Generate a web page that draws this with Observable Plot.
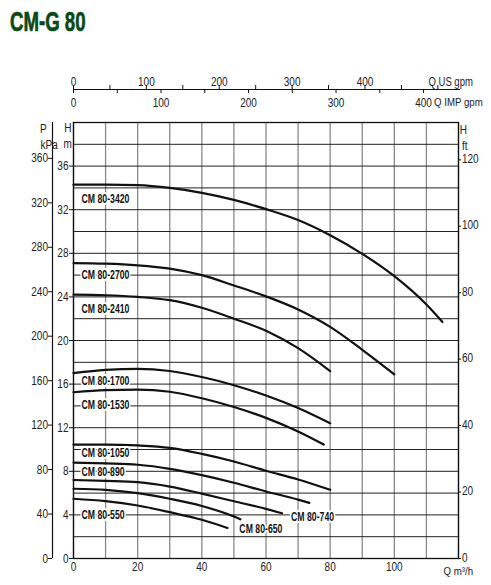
<!DOCTYPE html>
<html><head><meta charset="utf-8">
<script src="https://cdn.jsdelivr.net/npm/d3@7"></script>
<script src="https://cdn.jsdelivr.net/npm/@observablehq/plot@0.6"></script>
<style>
body{margin:0;background:#fff;width:491px;height:585px;overflow:hidden;position:relative;}
#title{position:absolute;left:10px;top:9px;font:bold 27px/27px "Liberation Sans",Arial,sans-serif;color:#0b4a16;-webkit-text-stroke:0.7px #0b4a16;transform-origin:left top;transform:scaleX(0.69);white-space:nowrap;}
#chart{position:absolute;left:0;top:40px;}
</style></head><body>
<div id="title">CM-G 80</div>
<div id="chart"></div>
<script>
// ---- data (Q in m³/h, H in m) ----
const q3420 = [0,10,20,30,40,50,60,70,80,90,100,110,115];
const h3420 = [34.3,34.3,34.25,34.0,33.55,32.9,32.05,31.05,29.65,27.95,25.9,23.3,21.7];
const q2700 = [0,10,20,30,40,50,60,70,80,90,100];
const h2700 = [27.1,27.05,26.9,26.6,26.0,25.05,24.05,22.85,21.25,19.15,16.9];
const q2410 = [0,10,20,30,40,50,60,70,80];
const h2410 = [24.2,24.15,24.0,23.7,23.0,22.0,20.9,19.3,17.2];
const q1700 = [0,10,20,30,40,50,60,70,80];
const h1700 = [17.0,17.3,17.4,17.2,16.65,15.9,14.95,13.8,12.4];
const q1530 = [0,10,20,30,40,50,60,70,78];
const h1530 = [15.25,15.45,15.5,15.3,14.7,13.9,12.9,11.65,10.45];
const q1050 = [0,10,20,30,40,50,60,70,80];
const h1050 = [10.45,10.45,10.37,10.15,9.6,8.9,8.05,7.25,6.3];
const q890 = [0,10,20,30,40,50,60,70,73.5];
const h890 = [8.8,8.72,8.6,8.23,7.65,6.95,6.15,5.4,5.1];
const q740 = [0,10,20,30,40,50,60,65];
const h740 = [7.2,7.12,7.0,6.6,5.95,5.25,4.55,4.15];
const q650 = [0,10,20,30,40,50,52];
const h650 = [6.4,6.3,6.0,5.48,4.82,3.85,3.6];
const q550 = [0,10,20,30,40,48];
const h550 = [5.48,5.26,4.86,4.25,3.55,2.8];

const models = ["CM 80-3420","CM 80-2700","CM 80-2410","CM 80-1700","CM 80-1530","CM 80-1050","CM 80-890","CM 80-740","CM 80-650","CM 80-550"];
const qSeries = [q3420,q2700,q2410,q1700,q1530,q1050,q890,q740,q650,q550];
const hSeries = [h3420,h2700,h2410,h1700,h1530,h1050,h890,h740,h650,h550];
const labelQ = [2.5,2.5,2.5,2.5,2.5,2.5,2.5,67.8,51.7,2.5];
const labelH = [33.0,26.0,22.9,16.3,14.1,9.66,7.98,3.79,2.72,4.0];

// ---- ticks ----
const qTicks = [0,20,40,60,80,100];
const gridQ = [0,10,20,30,40,50,60,70,80,90,100,110,120];
const gridH = [0,2,4,6,8,10,12,14,16,18,20,22,24,26,28,30,32,34,36,38,40];
const hTicks = [0,4,8,12,16,20,24,28,32,36];
const kpaTicks = [0,40,80,120,160,200,240,280,320,360];
const ftTicks = [0,20,40,60,80,100,120];
const usTicks = [0,50,100,150,200,250,300,350,400,450,500];
const usLabels = [0,100,200,300,400];
const impTicks = [0,50,100,150,200,250,300,350,400];
const impLabels = [0,100,200,300,400];

const US = 4.40287, IMP = 3.66615, KPA = 9.80665, FT = 3.28084;

const table = [];
models.forEach((m,i) => qSeries[i].forEach((q,j) => table.push({model:m, q, h:hSeries[i][j]})));
const labels = models.map((m,i) => ({model:m, q:labelQ[i], h:labelH[i]}));

const W = 491, H = 545, mL = 73, mR = 33, mT = 82, mB = 27;
const fW = W - mL - mR, fH = H - mT - mB;
const ink = "#111";
const txt = "#222";
const font = '"Liberation Sans",Arial,sans-serif';

const chart = Plot.plot({
  width: W, height: H,
  marginLeft: mL, marginRight: mR, marginTop: mT, marginBottom: mB,
  x: {domain: [0,120], axis: null},
  y: {domain: [0,40], axis: null},
  style: {fontFamily: font, fontSize: "12.5px", color: txt, background: "white", overflow: "visible"},
  marks: [
    Plot.ruleX(gridQ, {stroke: "#8a8a8a", strokeWidth: 1.3}),
    Plot.ruleY(gridH, {stroke: "#222", strokeWidth: 1}),
    Plot.frame({stroke: ink, strokeWidth: 1.3}),
    Plot.line(table, {x: "q", y: "h", z: "model", curve: "monotone-x", stroke: ink, strokeWidth: 2.2}),
    Plot.text(labels, {x: "q", y: "h", text: "model", textAnchor: "start", fontWeight: "bold", fontSize: 12.8, fill: ink, stroke: "white", strokeWidth: 4}),
    // left H (m) axis
    Plot.ruleY(hTicks, {insetRight: fW - 4, dx: -4, stroke: ink}),
    Plot.text(hTicks, {y: d => d, text: d => String(d), frameAnchor: "left", dx: -5, textAnchor: "end", fill: txt}),
    // P (kPa) axis
    Plot.ruleX([0], {dx: -21, stroke: ink, strokeWidth: 1.2}),
    Plot.ruleY(kpaTicks, {y: d => d / KPA, insetRight: fW - 4, dx: -25, stroke: ink}),
    Plot.text(kpaTicks, {y: d => d / KPA, text: d => String(d), frameAnchor: "left", dx: -25.5, textAnchor: "end", fill: txt}),
    // right H (ft) axis
    Plot.ruleY(ftTicks, {y: d => d / FT, insetLeft: fW - 3, dx: 3, stroke: ink}),
    Plot.text(ftTicks, {y: d => d / FT, text: d => String(d), frameAnchor: "right", dx: 3.5, dy: -1, textAnchor: "start", fill: txt}),
    // bottom Q axis
    Plot.text(qTicks, {x: d => d, text: d => String(d), frameAnchor: "bottom", dy: 12.5, fill: txt}),
    Plot.text(["Q m³/h"], {text: d => d, frameAnchor: "bottom-right", dx: -15, dy: 16, textAnchor: "start", fontSize: 11.5, fill: txt}),
    // top flow axes
    Plot.ruleY([40], {x1: 0, x2: 120.6, dy: -33, stroke: ink, strokeWidth: 1.2}),
    Plot.ruleX(usTicks, {x: d => d / US, insetBottom: fH - 4, dy: -37, stroke: ink}),
    Plot.ruleX(impTicks, {x: d => d / IMP, insetBottom: fH - 4, dy: -33, stroke: ink}),
    Plot.text(usLabels, {x: d => d / US, text: d => String(d), frameAnchor: "top", dy: -45.5, fill: txt}),
    Plot.text(["Q US gpm"], {text: d => d, frameAnchor: "top-left", dx: 355, dy: -45.5, textAnchor: "start", fill: txt}),
    Plot.text(impLabels, {x: d => d / IMP, text: d => String(d), frameAnchor: "top", dy: -24, fill: txt}),
    Plot.text(["Q IMP gpm"], {text: d => d, frameAnchor: "top-left", dx: 360.5, dy: -24, textAnchor: "start", fontSize: 11, fill: txt}),
    // axis headers
    Plot.text(["P"], {text: d => d, frameAnchor: "top-left", dx: -33.5, dy: 1.3, fill: txt}),
    Plot.text(["kPa"], {text: d => d, frameAnchor: "top-left", dx: -33, dy: 18, fill: txt}),
    Plot.text(["H"], {text: d => d, frameAnchor: "top-left", dx: -9.2, dy: 0.3, fill: txt}),
    Plot.text(["m"], {text: d => d, frameAnchor: "top-left", dx: -10, dy: 17, fill: txt}),
    Plot.text(["H"], {text: d => d, frameAnchor: "top-right", dx: 8.5, dy: 3, fill: txt}),
    Plot.text(["ft"], {text: d => d, frameAnchor: "top-right", dx: 9, dy: 18.7, fill: txt})
  ]
});
document.getElementById("chart").appendChild(chart);

// condense the text like the reference's narrow typeface
chart.querySelectorAll("text").forEach(t => {
  const w = getComputedStyle(t).fontWeight;
  const bold = w === "bold" || +w >= 600;
  const s = t.textContent;
  const f = bold ? 0.68 : (s === "Q IMP gpm" ? 0.88 : (s === "Q m³/h" ? 0.84 : (s.startsWith("Q ") ? 0.76 : 0.8)));
  const len = t.getComputedTextLength();
  if (len > 0) {
    t.setAttribute("textLength", (len * f).toFixed(2));
    t.setAttribute("lengthAdjust", "spacingAndGlyphs");
  }
});
</script>
</body></html>
